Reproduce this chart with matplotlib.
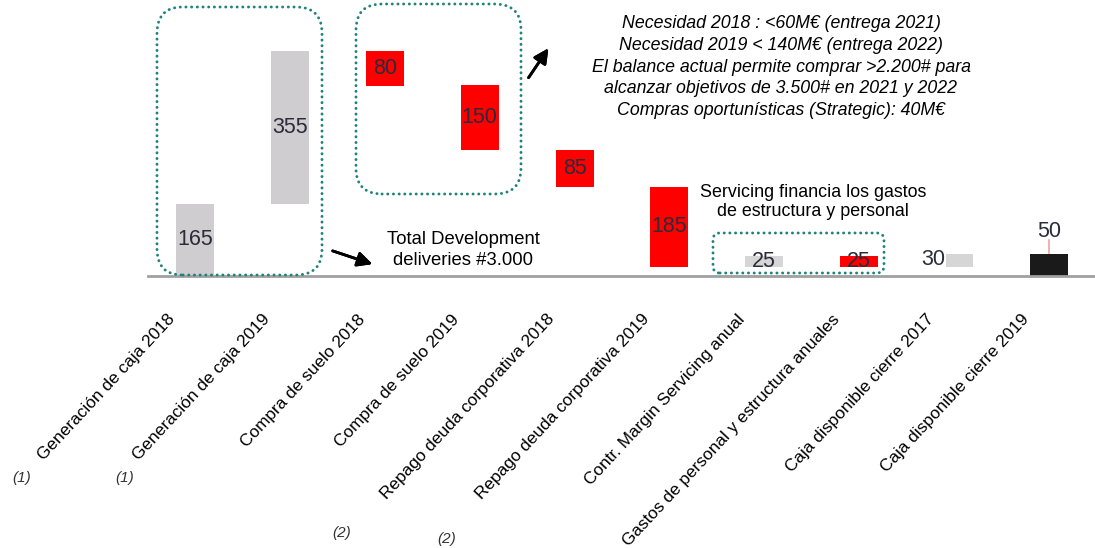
import matplotlib
matplotlib.use("Agg")
import matplotlib.pyplot as plt
import matplotlib.transforms as mtransforms
from matplotlib.patches import FancyBboxPatch

plt.rcParams['font.family'] = ['Liberation Sans', 'DejaVu Sans']

categories = ["Generación de caja 2018", "Generación de caja 2019",
              "Compra de suelo 2018", "Compra de suelo 2019",
              "Repago deuda corporativa 2018", "Repago deuda corporativa 2019",
              "Contr. Margin Servicing anual",
              "Gastos de personal y estructura anuales",
              "Caja disponible cierre 2017", "Caja disponible cierre 2019"]
changes = [165, 355, -80, -150, -85, -185, 25, -25, 30]
total = 50
bar_colors = ["#cfcdcf", "#cfcdcf", "#ff0000", "#ff0000", "#ff0000", "#ff0000",
              "#d6d6d6", "#ff0000", "#d6d6d6", "#1a1a1a"]

W, H = 1095, 548
fig = plt.figure(figsize=(W / 100, H / 100), dpi=100)
ax = fig.add_axes([148 / W, 1 - 275.5 / H, 1 - 148 / W, 275.5 / H])

# waterfall bottoms / heights
bottoms, heights = [], []
run = 0
for v in changes:
    if v >= 0:
        bottoms.append(run)
    else:
        bottoms.append(run + v)
    heights.append(abs(v))
    run += v
bottoms.append(0)
heights.append(total)

x = list(range(len(categories)))
ax.bar(x, heights, bottom=bottoms, width=0.4, color=bar_colors, zorder=2)

lab_color = "#2b2b3a"
for i in range(len(categories)):
    cy = bottoms[i] + heights[i] / 2
    if i == 8:
        ax.text(i - 0.22, cy + 3, str(heights[i]), ha="center", va="center",
                fontsize=15.5, color=lab_color, zorder=3,
                bbox=dict(facecolor="white", edgecolor="none", pad=0.5))
    elif i == 9:
        ax.plot([i, i], [heights[i] + 3, heights[i] + 33], color="#f4a0a0", lw=1.2)
        ax.text(i, heights[i] + 52, str(heights[i]), ha="center", va="center",
                fontsize=15.5, color=lab_color)
    else:
        ax.text(i, cy, str(heights[i]), ha="center", va="center",
                fontsize=15.5, color=lab_color, zorder=3)

ax.set_xlim(-0.495, 9.485)
ax.set_ylim(0, 638)
for s in ["top", "right", "left"]:
    ax.spines[s].set_visible(False)
ax.spines["bottom"].set_color("#a0a0a0")
ax.spines["bottom"].set_linewidth(2)
ax.set_yticks([])
ax.set_xticks(x)
ax.set_xticklabels(categories, rotation=47, ha="right", va="top",
                   rotation_mode="anchor", fontsize=12.4)
ax.tick_params(axis="x", length=0, pad=0)
offset = mtransforms.ScaledTranslation(-28 / 100, -36 / 100, fig.dpi_scale_trans)
for lbl in ax.get_xticklabels():
    lbl.set_transform(lbl.get_transform() + offset)

# dotted rounded boxes (pixel coords of the picture)
def dotted_box(x0, y0, x1, y1, r):
    p = FancyBboxPatch((x0 / 100, (H - y1) / 100), (x1 - x0) / 100, (y1 - y0) / 100,
                       boxstyle="round,pad=0,rounding_size=%f" % (r / 100),
                       transform=fig.dpi_scale_trans, fill=False,
                       edgecolor="#1f837c", linewidth=2.1,
                       linestyle=(0, (0.05, 1.9)), capstyle="round", zorder=5)
    fig.patches.append(p)

dotted_box(157, 7, 322, 275, 26)
dotted_box(356, 4, 521, 194, 26)
dotted_box(713, 233, 884, 273, 7)

# arrows
arrow = dict(arrowstyle="-|>", color="black", lw=2, mutation_scale=22)
fig.add_artist(plt.annotate("", xy=(375, H - 265), xytext=(330, H - 250),
                            xycoords="figure pixels", textcoords="figure pixels",
                            arrowprops=arrow))
fig.add_artist(plt.annotate("", xy=(550, H - 46), xytext=(527, H - 80),
                            xycoords="figure pixels", textcoords="figure pixels",
                            arrowprops=arrow))

# annotations
fig.text(463 / W, 1 - 250 / H, "Total Development\ndeliveries #3.000",
         ha="center", va="center", fontsize=13.3, linespacing=1.3)
fig.text(813 / W, 1 - 202 / H, "Servicing financia los gastos\nde estructura y personal",
         ha="center", va="center", fontsize=12.9, linespacing=1.2)
fig.text(781 / W, 1 - 67 / H,
         "Necesidad 2018 : <60M€ (entrega 2021)\n"
         "Necesidad 2019 < 140M€ (entrega 2022)\n"
         "El balance actual permite comprar >2.200# para\n"
         "alcanzar objetivos de 3.500# en 2021 y 2022\n"
         "Compras oportunísticas (Strategic): 40M€",
         ha="center", va="center", fontsize=12.8, style="italic", linespacing=1.35)

# footnotes
note_kw = dict(ha="center", va="center", fontsize=11, style="italic", color="#333333")
fig.text(22 / W, 1 - 478 / H, "(1)", **note_kw)
fig.text(125 / W, 1 - 478 / H, "(1)", **note_kw)
fig.text(342 / W, 1 - 533 / H, "(2)", **note_kw)
fig.text(447 / W, 1 - 539 / H, "(2)", **note_kw)

fig.savefig("out.png", dpi=100)
